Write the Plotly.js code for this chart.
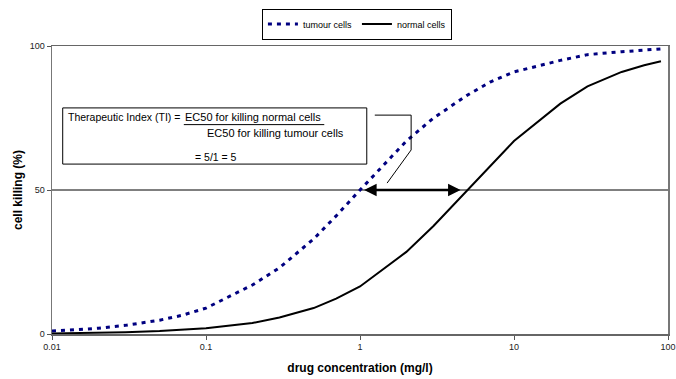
<!DOCTYPE html>
<html>
<head>
<meta charset="utf-8">
<script src="https://cdn.plot.ly/plotly-3.0.1.min.js"></script>
<style>
  html, body { margin: 0; padding: 0; background: #fff; }
  #chart { width: 676px; height: 379px; }
</style>
</head>
<body>
<div id="chart"></div>
<script>
// Drug concentrations (mg/l)
const concentration = [0.01, 0.02, 0.03, 0.05, 0.07, 0.1, 0.2, 0.3, 0.5, 0.7, 1, 2, 3, 5, 7, 10, 20, 30, 50, 70, 90];
// Cell killing (%)
const tumourKilling = [1, 2, 3, 4.8, 6.5, 9, 17, 23, 33, 41, 50, 67, 75, 83, 87.5, 91, 95, 97, 98, 98.6, 99];
const normalKilling = [0.2, 0.4, 0.6, 1, 1.4, 2, 3.8, 5.7, 9, 12.3, 16.5, 28.5, 37.5, 50, 58, 67, 80, 86, 91, 93.3, 94.7];
// EC50 values (tumour, normal)
const ec50 = [1, 5];
const xTickVals = [0.01, 0.1, 1, 10, 100];
const xTickText = ['0.01', '0.1', '1', '10', '100'];
const yTickVals = [0, 50, 100];

const FONT = 'Liberation Sans, Arial, sans-serif';

const traces = [
  {
    x: concentration, y: tumourKilling, type: 'scatter', mode: 'lines',
    name: 'tumour cells',
    line: { color: '#000080', width: 3, dash: '4px,5px' }
  },
  {
    x: concentration, y: normalKilling, type: 'scatter', mode: 'lines',
    name: 'normal cells',
    line: { color: '#000000', width: 2 }
  }
];

const layout = {
  width: 676, height: 379,
  margin: { l: 52, r: 8, t: 46, b: 45 },
  paper_bgcolor: '#ffffff', plot_bgcolor: '#ffffff',
  font: { family: FONT, size: 9, color: '#000' },
  showlegend: true,
  legend: {
    orientation: 'h', x: 0.495, xanchor: 'center', y: 1.13, yanchor: 'top',
    bordercolor: '#000', borderwidth: 1, font: { family: FONT, size: 9 },
    tracegroupgap: 0, itemwidth: 30
  },
  xaxis: {
    type: 'log', range: [-2, 2],
    tickvals: xTickVals, ticktext: xTickText,
    ticks: 'outside', ticklen: 4, tickcolor: '#555',
    showgrid: false, zeroline: false,
    showline: true, linecolor: '#666', linewidth: 1.5, mirror: true,
    tickfont: { family: FONT, size: 9, color: '#222' },
    title: { text: '<b>drug concentration (mg/l)</b>', font: { family: FONT, size: 12, color: '#000' }, standoff: 12 }
  },
  yaxis: {
    range: [0, 100], tickvals: yTickVals,
    ticks: 'outside', ticklen: 4, tickcolor: '#555',
    showgrid: false, zeroline: false,
    showline: true, linecolor: '#777', linewidth: 1.5, mirror: true,
    tickfont: { family: FONT, size: 9, color: '#222' },
    title: { text: '<b>cell killing (%)</b>', font: { family: FONT, size: 12, color: '#000' }, standoff: 4 }
  },
  shapes: [
    // 50 % reference line
    { type: 'line', xref: 'paper', yref: 'y', x0: 0, x1: 1, y0: 50, y1: 50,
      line: { color: '#000', width: 1 }, layer: 'below' },
    // text box
    { type: 'rect', xref: 'paper', yref: 'paper', x0: 0.0174, x1: 0.511, y0: 0.590, y1: 0.785,
      line: { color: '#000', width: 1 }, fillcolor: '#fff' },
    // underline of numerator
    { type: 'line', xref: 'paper', yref: 'paper', x0: 0.214, x1: 0.442, y0: 0.727, y1: 0.727,
      line: { color: '#000', width: 1 } },
    // callout
    { type: 'path', xref: 'paper', yref: 'paper',
      path: 'M 0.524 0.760 L 0.583 0.760 L 0.583 0.639 L 0.544 0.524',
      line: { color: '#000', width: 1 } }
  ],
  annotations: [
    { xref: 'paper', yref: 'paper', x: 0.0225, y: 0.753, xanchor: 'left', yanchor: 'middle', showarrow: false,
      text: 'Therapeutic Index (TI) =', font: { family: FONT, size: 10.5 } },
    { xref: 'paper', yref: 'paper', x: 0.212, y: 0.753, xanchor: 'left', yanchor: 'middle', showarrow: false,
      text: 'EC50 for killing normal cells', font: { family: FONT, size: 11 } },
    { xref: 'paper', yref: 'paper', x: 0.248, y: 0.698, xanchor: 'left', yanchor: 'middle', showarrow: false,
      text: 'EC50 for killing tumour cells', font: { family: FONT, size: 11 } },
    { xref: 'paper', yref: 'paper', x: 0.229, y: 0.615, xanchor: 'left', yanchor: 'middle', showarrow: false,
      text: '= 5/1 = 5', font: { family: FONT, size: 10.5 } },
    // double-headed arrow between EC50 values
    { xref: 'x', yref: 'y', axref: 'x', ayref: 'y',
      x: Math.log10(ec50[1] * 0.9), y: 50, ax: Math.log10(ec50[0] * 1.04), ay: 50,
      text: '', showarrow: true, arrowhead: 2, startarrowhead: 2, arrowside: 'end+start',
      arrowsize: 1, startarrowsize: 1, arrowwidth: 2.5, arrowcolor: '#000', standoff: 0, startstandoff: 0 }
  ]
};

Plotly.newPlot('chart', traces, layout, { displayModeBar: false, staticPlot: true });
</script>
</body>
</html>
